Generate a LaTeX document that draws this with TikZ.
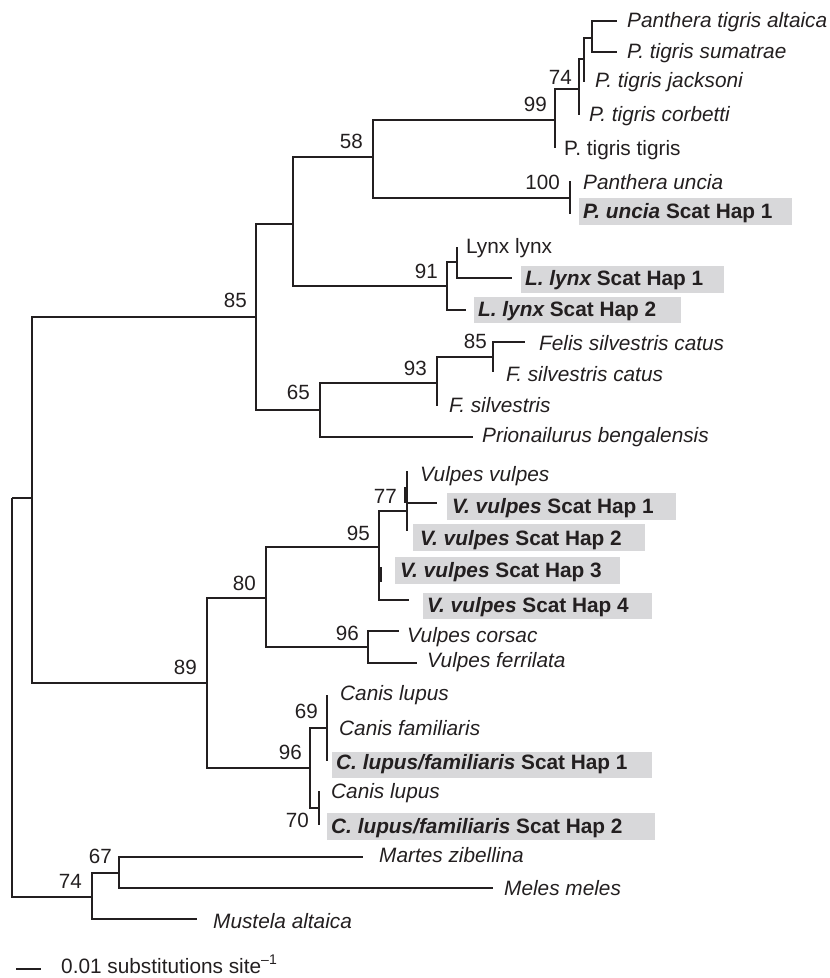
\documentclass[tikz,border=0pt]{standalone}
\usepackage{fontspec}
\setmainfont{Liberation Sans}
\definecolor{ink}{RGB}{35,31,32}
\definecolor{hapgrey}{RGB}{216,216,218}
\begin{document}
\begin{tikzpicture}[x=1pt,y=-1pt,
  branch/.style={draw=ink,line width=2.7pt,line join=miter,line cap=butt},
  sp/.style={anchor=base west,inner sep=0pt,text=ink,font=\fontsize{20.8}{24}\selectfont\itshape},
  spr/.style={anchor=base west,inner sep=0pt,text=ink,font=\fontsize{20.8}{24}\selectfont},
  hapt/.style={anchor=base west,inner sep=0pt,text=ink,font=\fontsize{20.8}{24}\selectfont\bfseries},
  boot/.style={anchor=base east,inner sep=0pt,text=ink,font=\fontsize{20.6}{24}\selectfont},
  hapbg/.style={fill=hapgrey,draw=none}]
\useasboundingbox (0,0) rectangle (830,978);
% ---------- coordinates ----------
\coordinate (R) at (12,498);
\coordinate (Ing) at (32,498);
\coordinate (M74) at (92,897);
\coordinate (M67) at (119,873);
\coordinate (tMart) at (363,857);
\coordinate (tMeles) at (493,888);
\coordinate (tMust) at (197,919);
\coordinate (Fel85) at (256,317);
\coordinate (A) at (293,224);
\coordinate (P58) at (373,157);
\coordinate (T99) at (555,120);
\coordinate (T74) at (579,89);
\coordinate (T2) at (584,59);
\coordinate (T3) at (592,38);
\coordinate (tAlt) at (617,21);
\coordinate (tSum) at (617,52);
\coordinate (tJack) at (584,82);
\coordinate (tCorb) at (579,115);
\coordinate (tTig) at (555,148);
\coordinate (U100) at (570,198);
\coordinate (tUn) at (570,181);
\coordinate (tUnH) at (570,214);
\coordinate (L91) at (447,286);
\coordinate (L2) at (457,262);
\coordinate (tLyn) at (457,247);
\coordinate (tLH1) at (512,278);
\coordinate (tLH2) at (466,310);
\coordinate (F65) at (320,410);
\coordinate (F93) at (437,383);
\coordinate (F85) at (493,357);
\coordinate (tFsc1) at (525,342);
\coordinate (tFsc2) at (493,372);
\coordinate (tFs) at (437,406);
\coordinate (tPri) at (473,437);
\coordinate (C89) at (207,683);
\coordinate (V80) at (266,598);
\coordinate (V95) at (379,547);
\coordinate (V77) at (407,511);
\coordinate (tVv) at (407,471);
\coordinate (tVH1) at (437,503);
\coordinate (tVH2) at (407,531);
\coordinate (h3a) at (381,567);
\coordinate (h3b) at (381,582);
\coordinate (h1a) at (405,487);
\coordinate (h1b) at (405,503);
\coordinate (tVH4) at (409,600);
\coordinate (V96) at (368,647);
\coordinate (tCor) at (399,631);
\coordinate (tFer) at (417,663);
\coordinate (C96) at (310,768);
\coordinate (C69) at (327,728);
\coordinate (tCl1) at (327,695);
\coordinate (tCH1) at (327,761);
\coordinate (C70) at (319,808);
\coordinate (tCl2) at (319,791);
\coordinate (tCH2) at (319,825);
\coordinate (sbA) at (16,969);
\coordinate (sbB) at (41,969);
% ---------- highlight boxes ----------
\fill[hapbg] (579,198) rectangle (792,225);
\fill[hapbg] (521,266) rectangle (724,293);
\fill[hapbg] (474,297) rectangle (681,323);
\fill[hapbg] (447,493) rectangle (676,520);
\fill[hapbg] (413,524) rectangle (645,551);
\fill[hapbg] (395,557) rectangle (620,584);
\fill[hapbg] (423,593) rectangle (652,619);
\fill[hapbg] (332,752) rectangle (652,778);
\fill[hapbg] (327,813) rectangle (655,840);
% ---------- branches ----------
\draw[branch] (R) |- (Ing);
\draw[branch] (R) |- (M74);
\draw[branch] (M74) |- (M67);
\draw[branch] (M74) |- (tMust);
\draw[branch] (M67) |- (tMart);
\draw[branch] (M67) |- (tMeles);
\draw[branch] (Ing) |- (Fel85);
\draw[branch] (Ing) |- (C89);
\draw[branch] (Fel85) |- (A);
\draw[branch] (Fel85) |- (F65);
\draw[branch] (A) |- (P58);
\draw[branch] (A) |- (L91);
\draw[branch] (P58) |- (T99);
\draw[branch] (P58) |- (U100);
\draw[branch] (T99) |- (T74);
\draw[branch] (T99) |- (tTig);
\draw[branch] (T74) |- (T2);
\draw[branch] (T74) |- (tCorb);
\draw[branch] (T2) |- (T3);
\draw[branch] (T2) |- (tJack);
\draw[branch] (T3) |- (tAlt);
\draw[branch] (T3) |- (tSum);
\draw[branch] (U100) |- (tUn);
\draw[branch] (U100) |- (tUnH);
\draw[branch] (L91) |- (L2);
\draw[branch] (L91) |- (tLH2);
\draw[branch] (L2) |- (tLyn);
\draw[branch] (L2) |- (tLH1);
\draw[branch] (F65) |- (F93);
\draw[branch] (F65) |- (tPri);
\draw[branch] (F93) |- (F85);
\draw[branch] (F93) |- (tFs);
\draw[branch] (F85) |- (tFsc1);
\draw[branch] (F85) |- (tFsc2);
\draw[branch] (C89) |- (V80);
\draw[branch] (C89) |- (C96);
\draw[branch] (V80) |- (V95);
\draw[branch] (V80) |- (V96);
\draw[branch] (V95) |- (V77);
\draw[branch] (V95) |- (tVH4);
\draw[branch] (h3a) -- (h3b);
\draw[branch] (V77) |- (tVv);
\draw[branch] (V77) |- (tVH1);
\draw[branch] (V77) |- (tVH2);
\draw[branch] (h1a) -- (h1b);
\draw[branch] (V96) |- (tCor);
\draw[branch] (V96) |- (tFer);
\draw[branch] (C96) |- (C69);
\draw[branch] (C96) |- (C70);
\draw[branch] (C69) |- (tCl1);
\draw[branch] (C69) |- (tCH1);
\draw[branch] (C70) |- (tCl2);
\draw[branch] (C70) |- (tCH2);
\draw[branch] (sbA) -- (sbB);
% ---------- leaf labels ----------
\node[sp] (nAlt) at (627,27) {Panthera tigris altaica};
\node[sp] (nSum) at (627,58) {P. tigris sumatrae};
\node[sp] (nJack) at (595,87) {P. tigris jacksoni};
\node[sp] (nCorb) at (589,121) {P. tigris corbetti};
\node[spr] (nTig) at (564,155) {P. tigris tigris};
\node[sp] (nUn) at (583,189) {Panthera uncia};
\node[hapt] (nUnH) at (583,218) {{\itshape P. uncia} Scat Hap 1};
\node[spr] (nLyn) at (466,253) {Lynx lynx};
\node[hapt] (nLH1) at (525,285) {{\itshape L. lynx} Scat Hap 1};
\node[hapt] (nLH2) at (478,316) {{\itshape L. lynx} Scat Hap 2};
\node[sp] (nFsc1) at (539,350) {Felis silvestris catus};
\node[sp] (nFsc2) at (506,381) {F. silvestris catus};
\node[sp] (nFs) at (449,412) {F. silvestris};
\node[sp] (nPri) at (482,442) {Prionailurus bengalensis};
\node[sp] (nVv) at (420,481) {Vulpes vulpes};
\node[hapt] (nVH1) at (452,513) {{\itshape V. vulpes} Scat Hap 1};
\node[hapt] (nVH2) at (420,545) {{\itshape V. vulpes} Scat Hap 2};
\node[hapt] (nVH3) at (400,577) {{\itshape V. vulpes} Scat Hap 3};
\node[hapt] (nVH4) at (427,612) {{\itshape V. vulpes} Scat Hap 4};
\node[sp] (nCor) at (407,642) {Vulpes corsac};
\node[sp] (nFer) at (427,667) {Vulpes ferrilata};
\node[sp] (nCl1) at (340,700) {Canis lupus};
\node[sp] (nCf) at (339,735) {Canis familiaris};
\node[hapt] (nCH1) at (336,769) {{\itshape C. lupus/familiaris} Scat Hap 1};
\node[sp] (nCl2) at (331,798) {Canis lupus};
\node[hapt] (nCH2) at (331,833) {{\itshape C. lupus/familiaris} Scat Hap 2};
\node[sp] (nMart) at (379,862) {Martes zibellina};
\node[sp] (nMeles) at (504,895) {Meles meles};
\node[sp] (nMust) at (213,928) {Mustela altaica};
% ---------- bootstrap values ----------
\node[boot] (b85) at (247,307) {85};
\node[boot] (b58) at (363,148) {58};
\node[boot] (b99) at (547,111) {99};
\node[boot] (b74t) at (572,84) {74};
\node[boot] (b100) at (560,189) {100};
\node[boot] (b91) at (438,278) {91};
\node[boot] (b65) at (310,399) {65};
\node[boot] (b93) at (427,375) {93};
\node[boot] (b85i) at (487,348) {85};
\node[boot] (b80) at (256,590) {80};
\node[boot] (b95) at (370,540) {95};
\node[boot] (b77) at (397,503) {77};
\node[boot] (b96v) at (359,640) {96};
\node[boot] (b89) at (197,674) {89};
\node[boot] (b96c) at (302,759) {96};
\node[boot] (b69) at (318,718) {69};
\node[boot] (b70) at (309,827) {70};
\node[boot] (b67) at (112,863) {67};
\node[boot] (b74m) at (82,888) {74};
% ---------- scale bar ----------
\node[spr] (nScale) at (61,973) {0.01 substitutions site\raisebox{0.42em}{\fontsize{14}{14}\selectfont –1}};
\end{tikzpicture}
\end{document}
